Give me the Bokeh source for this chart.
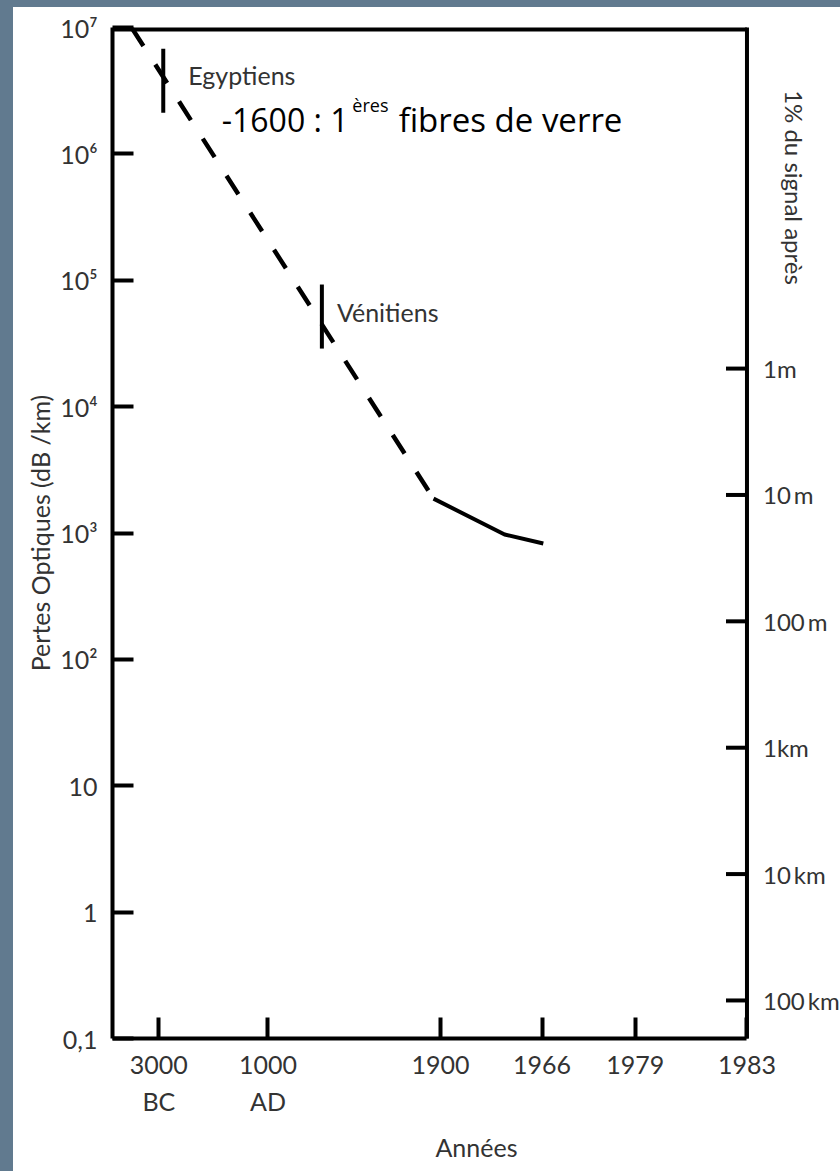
import math
from bokeh.plotting import figure
from bokeh.models import Range1d, FixedTicker, Label, GlobalInlineStyleSheet
from bokeh.embed import file_html
from bokeh.resources import INLINE
from bokeh.core.properties import value

# ---------------- data ----------------
# time axis is not linear: positions (0-100) of the year ticks along the axis
year_labels = ["3000\nBC", "1000\nAD", "1900", "1966", "1979", "1983"]
year_pos = [7.3, 24.5, 51.7, 67.7, 82.4, 100.0]

loss_ticks = [0.1, 1, 10, 100, 1e3, 1e4, 1e5, 1e6, 1e7]
loss_labels = ["0,1", "1", "10", "10²", "10³", "10⁴", "10⁵", "10⁶", "10⁷"]

# loss (dB/km) at which 1 % of the signal (20 dB) remains after the given distance
dist_ticks = [2e4, 2e3, 2e2, 20, 2, 0.2]
dist_labels = ["1m", "10\u2009m", "100\u2009m", "1km", "10\u2009km", "100\u2009km"]

# estimated historical losses (dashed) and measured losses (solid)
est_x = [3.0, 50.6]
est_loss = [1.0e7, 1.87e3]
meas_x = [50.6, 61.8, 67.9]
meas_loss = [1.87e3, 973, 826]

# eras (vertical bars)
era_names = ["Egyptiens", "Vénitiens"]
era_x = [8.0, 33.0]
era_top = [6.8e6, 9.25e4]
era_bottom = [2.12e6, 2.88e4]

SLATE = "#617a8f"
TXT = "#333333"
X_END = 100.0      # right end of the time axis
X_MAX = 114.74     # frame extends to the page edge (room for right scale)

p = figure(width=840, height=1171,
           x_range=Range1d(0, X_MAX), y_range=Range1d(0.1, 1e7),
           y_axis_type="log", output_backend="svg", toolbar_location=None,
           min_border_left=112, min_border_right=0, min_border_top=27, min_border_bottom=133,
           background_fill_color="white", border_fill_alpha=0,
           outline_line_color=None)

p.stylesheets = [GlobalInlineStyleSheet(css=(
    "html{background:linear-gradient(90deg,%s 13px,rgba(0,0,0,0) 13px),"
    "linear-gradient(180deg,%s 7px,#ffffff 7px);}" % (SLATE, SLATE)))]

p.xgrid.visible = False
p.ygrid.visible = False

def style_axis(ax, size="25px"):
    ax.axis_line_width = 4
    ax.axis_line_color = "black"
    ax.major_tick_line_width = 4
    ax.major_tick_line_color = "black"
    ax.major_tick_in = 21
    ax.major_tick_out = 0
    ax.minor_tick_line_color = None
    ax.major_label_text_font = "Lato"
    ax.major_label_text_font_size = size
    ax.major_label_text_color = TXT
    ax.axis_label_text_font = "Lato"
    ax.axis_label_text_font_size = "25px"
    ax.axis_label_text_font_style = "normal"
    ax.axis_label_text_color = TXT

xa = p.xaxis[0]
style_axis(xa)
xa.bounds = (0, X_END)
xa.ticker = FixedTicker(ticks=year_pos)
xa.major_label_overrides = dict(zip(year_pos, year_labels))
xa.major_label_text_line_height = 1.25
xa.major_label_standoff = 10
xa.axis_label = "Années"
xa.axis_label_standoff = 13

ya = p.yaxis[0]
style_axis(ya, "25px")
ya.ticker = FixedTicker(ticks=loss_ticks)
ya.major_label_overrides = dict(zip(loss_ticks, loss_labels))
ya.major_label_standoff = 15
ya.axis_label = "Pertes Optiques (dB /km)"
ya.axis_label_standoff = 2

# frame: top border and right scale (distance for 1 % of the signal)
p.segment(x0=[0], y0=[1e7], x1=[X_END], y1=[1e7], line_color="black", line_width=8)
p.segment(x0=[X_END], y0=[0.1], x1=[X_END], y1=[1e7], line_color="black", line_width=4,
          line_cap="square")
p.ray(x=[X_END] * len(dist_ticks), y=dist_ticks, length=21, length_units="screen",
      angle=math.pi, line_color="black", line_width=4)
p.text(x=[X_END] * len(dist_ticks), y=dist_ticks, text=dist_labels, x_offset=16,
       text_align="left", text_baseline="middle", text_font=value("Lato"),
       text_font_size="24px", text_color=TXT)

# curves
p.line(est_x, est_loss, line_color="black", line_width=4.5, line_dash="22 22")
p.line(meas_x, meas_loss, line_color="black", line_width=4)

# era bars
p.segment(x0=era_x, y0=era_bottom, x1=era_x, y1=era_top, line_color="black", line_width=4)

p.add_layout(Label(x=era_x[0], y=4.2e6, x_offset=25, text=era_names[0],
                   text_font="Lato", text_font_size="25px", text_color=TXT,
                   text_baseline="alphabetic"))
p.add_layout(Label(x=era_x[1], y=5.6e4, x_offset=15, text=era_names[1],
                   text_font="Lato", text_font_size="25px", text_color=TXT,
                   text_baseline="alphabetic"))

# annotation "-1600 : 1ères fibres de verre"
p.add_layout(Label(x=37.2, y=1.87e6, text="-1600 : 1", text_align="right",
                   text_font="Open Sans", text_font_size="32px", text_color="black",
                   text_baseline="alphabetic"))
p.add_layout(Label(x=37.8, y=2.45e6, text="ères", text_align="left",
                   text_font="Open Sans", text_font_size="18px", text_color="black",
                   text_baseline="alphabetic"))
p.add_layout(Label(x=45.1, y=1.87e6, text="fibres de verre", text_align="left",
                   text_font="Open Sans", text_font_size="33px", text_color="black",
                   text_baseline="alphabetic"))

# right scale title
p.add_layout(Label(x=107.5, y=5.42e5, text="1% du signal après", angle=-math.pi / 2,
                   text_align="center", text_baseline="middle",
                   text_font="Lato", text_font_size="24px", text_color=TXT))

open("out.html", "w").write(file_html(p, INLINE))
